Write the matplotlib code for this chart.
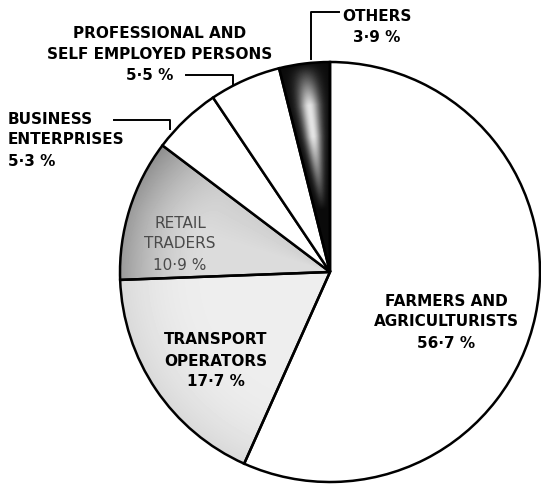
import matplotlib
matplotlib.use("Agg")
import matplotlib.pyplot as plt
import numpy as np

W, H = 541, 492

labels = ["FARMERS AND\nAGRICULTURISTS", "TRANSPORT\nOPERATORS", "RETAIL\nTRADERS",
          "BUSINESS\nENTERPRISES", "PROFESSIONAL AND\nSELF EMPLOYED PERSONS", "OTHERS"]
shares = [56.7, 17.7, 10.9, 5.3, 5.5, 3.9]
pct_text = ["56·7 %", "17·7 %", "10·9 %", "5·3 %", "5·5 %", "3·9 %"]
fills = ["white", "#e9e9e9", "#d2d2d2", "white", "white", "#111111"]

cx, cy, R = 330, H - 272, 210


def Y(y):
    # picture rows -> data y
    return H - y


plt.rcParams['font.family'] = ['DejaVu Sans']
fig = plt.figure(figsize=(W / 100, H / 100), dpi=100)
ax = fig.add_axes([0, 0, 1, 1])

wedges, _ = ax.pie(shares, center=(cx, cy), radius=R, startangle=90, counterclock=False,
                   colors=fills, frame=True,
                   wedgeprops=dict(edgecolor='black', linewidth=1.8, zorder=3))
ax.set_xlim(0, W)
ax.set_ylim(0, H)
ax.set_aspect('equal')
ax.axis('off')

# shading for the toned wedges
xx, yy = np.meshgrid(np.arange(W) + 0.5, np.arange(H) + 0.5)
dx, dy = xx - cx, yy - cy
rr = np.hypot(dx, dy) / R
phi = np.degrees(np.arctan2(dx, dy)) % 360
edges = np.cumsum([0] + shares) * 3.6

shade = {}
shade[1] = 0.93 - 0.08 * np.clip((rr - 0.6) / 0.4, 0, 1) ** 2
shade[2] = 0.86 - 0.26 * np.clip((rr - 0.6) / 0.4, 0, 1) ** 1.8 \
    - 0.05 * np.clip((phi - edges[2]) / (edges[3] - edges[2]) * 2 - 1, 0, 1)
mid = (edges[5] + edges[6]) / 2
hw = (edges[6] - edges[5]) / 2
shade[5] = 0.85 * np.exp(-((phi - mid) / (0.5 * hw)) ** 2) \
    * np.clip((rr - 0.3) / 0.35, 0, 1) * np.clip((1.0 - rr) / 0.2, 0, 1) + 0.04

for i, img in shade.items():
    wedges[i].set_facecolor('none')
    im = ax.imshow(np.clip(img, 0, 1), extent=(0, W, 0, H), origin='lower', cmap='gray',
                   vmin=0, vmax=1, zorder=2, interpolation='bilinear')
    im.set_clip_path(wedges[i])

fs = 11
kw = dict(fontsize=fs, fontweight='bold', linespacing=1.5, zorder=5)

ax.text(446, Y(322), labels[0] + "\n" + pct_text[0], ha='center', va='center', **kw)
ax.text(216, Y(361), labels[1] + "\n" + pct_text[1], ha='center', va='center', **kw)
ax.text(180, Y(244), labels[2] + "\n" + pct_text[2], ha='center', va='center',
        color='#4a4a4a', fontsize=fs, linespacing=1.5, zorder=5)
ax.text(8, Y(140), labels[3] + "\n" + pct_text[3], ha='left', va='center', **kw)
ax.text(160, Y(44), labels[4], ha='center', va='center', **kw)
ax.text(150, Y(76), pct_text[4], ha='center', va='center', **kw)
ax.text(377, Y(27), labels[5] + "\n" + pct_text[5], ha='center', va='center', **kw)

# leader lines
lk = dict(color='black', linewidth=1.4, zorder=5)
ax.plot([114, 170, 170], [Y(120), Y(120), Y(129)], **lk)
ax.plot([186, 233, 233], [Y(75), Y(75), Y(84)], **lk)
ax.plot([339, 311, 311], [Y(12), Y(12), Y(59)], **lk)

fig.savefig("out.png", dpi=100)
